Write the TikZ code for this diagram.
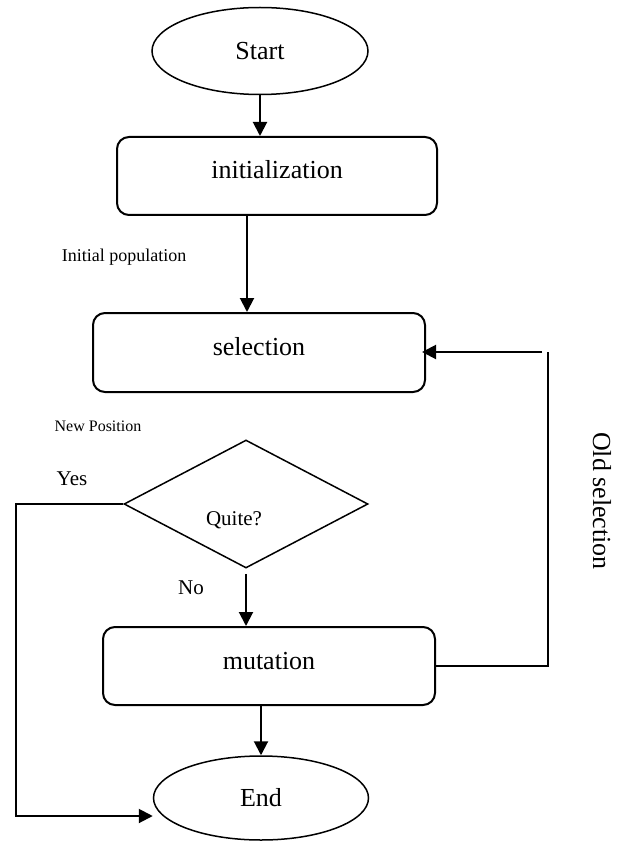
\documentclass[tikz,border=0pt]{standalone}
\usepackage{fontspec}
\setmainfont{Liberation Serif}
\usetikzlibrary{shapes.geometric,arrows.meta}

\begin{document}
\begin{tikzpicture}[x=1pt,y=-1pt,
    terminal/.style={draw,ellipse,line width=1.5pt,inner sep=0pt,font=\fontsize{26}{30}\selectfont},
    process/.style={draw,rounded corners=12pt,line width=2pt,inner sep=0pt,
                    text height=18pt,text depth=12pt,font=\fontsize{26}{30}\selectfont},
    decision/.style={draw,diamond,line width=1.5pt,inner sep=0pt},
    flow/.style={line width=2pt,-{Triangle[length=14pt,width=14pt]}}]
    \useasboundingbox (0,0) rectangle (624,842);

    % Blok utama
    \node[terminal,minimum width=216pt,minimum height=87pt] (start) at (260,51) {Start};
    \node[process,minimum width=320pt,minimum height=78pt] (init) at (277,176) {initialization};
    \node[process,minimum width=332pt,minimum height=79pt] (sel) at (259,352.5) {selection};
    \node[decision,minimum width=244pt,minimum height=128pt,
          label={[font=\fontsize{21}{24}\selectfont,xshift=-12pt,yshift=-16pt]center:Quite?}] (quit) at (246,504) {};
    \node[process,minimum width=332pt,minimum height=78pt] (mut) at (269,666) {mutation};
    \node[terminal,minimum width=215pt,minimum height=84pt] (stop) at (261,798) {End};

    % Keterangan
    \node[font=\fontsize{18}{21}\selectfont] (initpop) at (124,257) {Initial population};
    \node[font=\fontsize{16}{19}\selectfont] (newpos) at (98,426) {New Position};
    \node[font=\fontsize{21}{24}\selectfont] (yes) at (72,479) {Yes};
    \node[font=\fontsize{21}{24}\selectfont] (no) at (191,588) {No};
    \node[font=\fontsize{26}{30}\selectfont,rotate=-90] (oldsel) at (602,501) {Old selection};

    % Panah
    \coordinate (loop) at (548,352);
    \coordinate (exit) at (16,816);
    \draw[flow] (start.south) -- (start.south |- init.north);
    \draw[flow] ([xshift=-30pt]init.south) -- ([xshift=-30pt]init.south |- sel.north);
    \draw[flow] ([yshift=-5pt]quit.south) -- (quit.south |- mut.north);
    \draw[flow] (mut.south -| stop) -- (stop.north);
    \draw[line width=2pt] (mut.east) -| (loop);
    \draw[flow,shorten >=-4pt] ([xshift=-6pt]loop) -- (sel.east |- loop);
    \draw[flow] (quit.west) -| (exit) -- (stop.west |- exit);
\end{tikzpicture}
\end{document}
